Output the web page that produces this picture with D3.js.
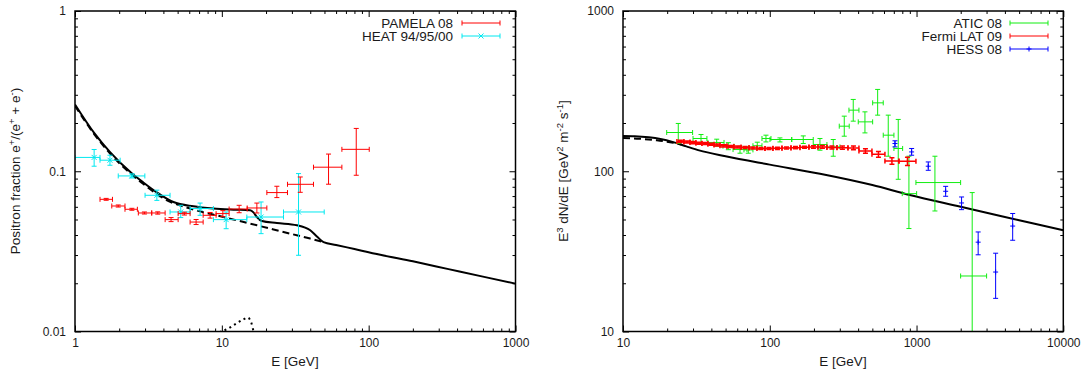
<!DOCTYPE html>
<html><head><meta charset="utf-8">
<script src="https://cdn.jsdelivr.net/npm/d3@7"></script>
<style>
body{margin:0;background:#fff}
svg text{font-family:"Liberation Sans",Arial,Helvetica,sans-serif;fill:#1a1a1a}
</style>
</head><body>
<svg id="c" width="1085" height="377"></svg>
<script>
// ---------------- DATA ----------------
// Left panel: positron fraction
const leftXTicks = [1, 10, 100, 1000];
const leftXLabels = ["1", "10", "100", "1000"];
const leftYTicks = [0.01, 0.1, 1];
const leftYLabels = ["0.01", "0.1", "1"];

// rows: [E, Elo, Ehi, v, vlo, vhi]
const pamela = [
  [1.63,1.48,1.80,0.0668,0.0659,0.0677],
  [1.97,1.78,2.19,0.0607,0.0598,0.0616],
  [2.44,2.19,2.66,0.0579,0.0571,0.0587],
  [2.97,2.70,3.33,0.0549,0.0541,0.0557],
  [3.66,3.33,4.11,0.0549,0.0540,0.0558],
  [4.51,4.11,5.04,0.0499,0.0485,0.0514],
  [5.56,5.04,6.08,0.0544,0.0533,0.0555],
  [6.68,6.08,7.46,0.0482,0.0465,0.0500],
  [8.32,7.46,9.14,0.0531,0.0510,0.0553],
  [10.16,9.14,11.21,0.0544,0.0521,0.0568],
  [13.12,11.21,14.88,0.0581,0.0551,0.0613],
  [17.32,14.88,20.26,0.0590,0.0549,0.0633],
  [23.7,20.26,28.0,0.0736,0.0685,0.0806],
  [34.2,28.0,42.1,0.0829,0.0739,0.0921],
  [53.3,42.1,65.7,0.106,0.083,0.128],
  [82.3,65.7,100.9,0.137,0.0944,0.185]
];
const heat = [
  [1.35,1.0,1.48,0.122,0.1075,0.1367],
  [1.73,1.48,2.03,0.1172,0.109,0.1259],
  [2.44,1.97,2.99,0.0935,0.0908,0.0963],
  [3.61,3.0,4.44,0.0708,0.0658,0.0762],
  [5.25,4.44,6.08,0.0557,0.0514,0.0613],
  [7.11,6.08,8.76,0.0585,0.0531,0.0633],
  [10.7,8.76,14.8,0.0499,0.0438,0.0557],
  [18.5,14.8,26.3,0.0518,0.0408,0.0643],
  [33.3,26.3,49.8,0.0557,0.0299,0.0967]
];
// model curves [E, value]
const fracSolid = [[1,0.261],[1.354,0.1728],[1.733,0.1315],[2.435,0.0972],[2.908,0.0854],[3.605,0.0739],
  [4.679,0.0643],[6.404,0.0604],[8.764,0.0585],[12.0,0.0576],[15.59,0.0571],[16.42,0.0554],[17.32,0.0518],
  [18.74,0.0489],[23.71,0.0475],[32.45,0.0460],[40.0,0.0428],[44.4,0.0392],[49.3,0.0361],[60,0.0347],
  [80,0.0327],[120,0.0301],[200,0.0274],[350,0.0245],[600,0.0220],[1000,0.0199]];
const fracDashed = [[1,0.256],[1.354,0.170],[1.733,0.129],[2.435,0.0955],[2.908,0.0835],[3.605,0.0722],
  [4.0,0.0678],[6.08,0.0585],[10.25,0.0518],[17.32,0.0460],[29.2,0.0408],[40,0.0380],[49.3,0.0361]];
const fracDotted = [[9.0,0.0094],[9.7,0.0099],[11,0.0104],[12.5,0.0112],[14,0.0119],[15,0.0122],[15.8,0.0115],[16.5,0.0099],[17,0.0090]];

// Right panel: E^3 dN/dE
const rightXTicks = [10, 100, 1000, 10000];
const rightXLabels = ["10", "100", "1000", "10000"];
const rightYTicks = [10, 100, 1000];
const rightYLabels = ["10", "100", "1000"];

const atic = [
  [23.8,19.85,29.8,174.5,149.0,198.7],
  [34.0,30.0,37.3,160.1,149.0,169.6],
  [43.5,37.9,48.8,151.2,143.3,158.5],
  [52.2,48.0,57.0,143.3,136.3,150.8],
  [62.7,56.2,69.9,136.6,129.6,143.3],
  [71.4,66.7,76.8,135.9,129.6,142.2],
  [82.2,76.8,88.5,144.3,137.2,151.8],
  [94.2,88.5,101.9,160.1,152.4,167.9],
  [117.3,100.3,141.1,157.8,152.4,161.5],
  [169.1,141.1,197.8,157.8,149.0,166.2],
  [219.8,197.8,245.2,146.9,135.3,160.1],
  [270.7,244.1,300.8,141.9,124.1,157.8],
  [321.8,297.5,347.9,191.1,165.5,220.7],
  [370.5,346.3,405.2,240.6,205.4,280.6],
  [445.2,400.8,502.3,203.3,173.5,234.8],
  [543.3,502.3,593.2,267.2,223.9,324.0],
  [641.6,593.2,701.5,167.9,124.1,223.9],
  [750.5,701.5,804.1,138.7,89.1,210.5],
  [887.6,799.1,1001.6,72.5,43.9,124.1],
  [1334.6,990.6,1997,85.0,56.5,124.1],
  [2395,1997,3002,22.2,5,73.6]
];
const fermi = [
  [24.6,23.3,26.0,153.6,151.3,155.9],
  [27.3,26.0,28.6,152.2,149.9,154.5],
  [30.0,28.6,31.4,150.9,148.6,153.2],
  [32.9,31.4,34.5,149.6,147.4,151.8],
  [36.2,34.5,37.9,149.0,146.8,151.2],
  [39.8,37.9,41.7,147.5,145.3,149.7],
  [43.7,41.7,45.8,145.8,143.6,148.0],
  [48.4,45.8,51.1,144.1,141.9,146.3],
  [54.0,51.1,57.0,142.7,140.6,144.8],
  [60.3,57.0,63.7,141.7,139.6,143.8],
  [67.8,63.7,72.2,140.6,138.5,142.7],
  [76.8,72.2,81.8,139.6,137.5,141.7],
  [87.1,81.8,92.8,138.7,136.6,140.8],
  [98.8,92.8,105.1,138.7,136.6,140.8],
  [112.8,105.1,121.1,139.0,136.9,141.1],
  [130.0,121.1,139.5,139.6,137.5,141.7],
  [149.7,139.5,160.6,140.4,138.3,142.5],
  [172.3,160.6,184.9,141.3,139.2,143.4],
  [198.5,184.9,213.0,141.9,139.4,144.4],
  [228.5,213.0,245.2,141.9,139.2,144.6],
  [265.3,245.2,287.0,140.8,137.8,143.8],
  [312.8,287.0,341.0,140.4,137.0,143.8],
  [371.7,341.0,405.2,139.9,136.0,143.8],
  [448.7,405.2,496.9,133.9,129.5,138.3],
  [550.2,496.9,609.1,127.7,122.5,132.9],
  [679.8,609.1,758.8,115.9,110.5,121.3],
  [867.1,758.8,990.8,115.3,108.5,122.1]
];
// rows: [E, v, vlo, vhi]
const hess = [
  [713,149,141.9,154.9],
  [926,132,125.9,138.7],
  [1202,107.5,101.4,114.3],
  [1579,75,69.8,80.5],
  [2027,63.4,57.6,69.1],
  [2630,36.1,30.1,41.8],
  [3459,23.5,16.1,30.8],
  [4520,45.5,37.1,54.5]
];
const fluxSolid = [[10,166],[12,165.5],[15,163],[18,159],[22,152],[27,143],[33,135],[50,124],[100,110],
  [220,96.5],[500,82],[900,71],[2000,60],[5000,49.5],[10000,42.8]];
const fluxDashed = [[10,161],[13,159.5],[17,156],[22,150.5],[25,147]];

// ---------------- DRAWING ----------------
const svg = d3.select("#c");
svg.append("rect").attr("width",1085).attr("height",377).attr("fill","#fff");

const COL = {red:"#ff0000", cyan:"#00e8f0", green:"#11ee11", blue:"#0000ff"};
const TICKFS = 12, LABFS = 13.5;

function minorTicks(domain){
  const out=[];
  for(let d=domain[0]; d<domain[1]; d*=10){ for(let k=2;k<=9;k++) out.push(k*d); }
  return out;
}

function makePanel(p){
  const x = d3.scaleLog().domain(p.xd).range([p.x0,p.x1]);
  const y = d3.scaleLog().domain(p.yd).range([p.y1,p.y0]);
  const g = svg.append("g");
  const clipId = "clip"+p.id;
  svg.append("clipPath").attr("id",clipId).append("rect")
    .attr("x",p.x0).attr("y",p.y0).attr("width",p.x1-p.x0).attr("height",p.y1-p.y0);

  const style = sel => { sel.select(".domain").remove();
    sel.selectAll(".tick line").attr("stroke","#000").attr("stroke-width",1);
    sel.selectAll("text").attr("font-size",TICKFS).attr("font-family",null).attr("fill","#1a1a1a"); };

  const mx = minorTicks(p.xd), my = minorTicks(p.yd);
  g.append("g").attr("transform",`translate(0,${p.y1})`)
    .call(d3.axisBottom(x).tickValues(p.xt).tickFormat((d,i)=>p.xl[i]).tickSize(-6).tickPadding(7)).call(style);
  g.append("g").attr("transform",`translate(0,${p.y1})`)
    .call(d3.axisBottom(x).tickValues(mx).tickFormat("").tickSize(-3)).call(style);
  g.append("g").attr("transform",`translate(0,${p.y0})`)
    .call(d3.axisTop(x).tickValues(p.xt).tickFormat("").tickSize(-6)).call(style);
  g.append("g").attr("transform",`translate(0,${p.y0})`)
    .call(d3.axisTop(x).tickValues(mx).tickFormat("").tickSize(-3)).call(style);
  g.append("g").attr("transform",`translate(${p.x0},0)`)
    .call(d3.axisLeft(y).tickValues(p.yt).tickFormat((d,i)=>p.yl[i]).tickSize(-6).tickPadding(9)).call(style);
  g.append("g").attr("transform",`translate(${p.x0},0)`)
    .call(d3.axisLeft(y).tickValues(my).tickFormat("").tickSize(-3)).call(style);
  g.append("g").attr("transform",`translate(${p.x1},0)`)
    .call(d3.axisRight(y).tickValues(p.yt).tickFormat("").tickSize(-6)).call(style);
  g.append("g").attr("transform",`translate(${p.x1},0)`)
    .call(d3.axisRight(y).tickValues(my).tickFormat("").tickSize(-3)).call(style);

  const plot = g.append("g").attr("clip-path",`url(#${clipId})`);
  g.append("rect").attr("x",p.x0).attr("y",p.y0).attr("width",p.x1-p.x0).attr("height",p.y1-p.y0)
    .attr("fill","none").attr("stroke","#000").attr("stroke-width",1.5);
  return {x,y,g,plot};
}

function curve(plot,x,y,data,dash,w){
  plot.append("path").datum(data)
    .attr("d", d3.line().x(d=>x(d[0])).y(d=>y(d[1])).curve(d3.curveMonotoneX))
    .attr("fill","none").attr("stroke","#000").attr("stroke-width",w||2)
    .attr("stroke-dasharray",dash||null);
}

function seg(g,x1,y1,x2,y2,color,w){
  g.append("line").attr("x1",x1).attr("y1",y1).attr("x2",x2).attr("y2",y2)
    .attr("stroke",color).attr("stroke-width",w||1);
}

function marker(g,cx,cy,type,color){
  if(type==="x"){ const s=2.5; seg(g,cx-s,cy-s,cx+s,cy+s,color); seg(g,cx-s,cy+s,cx+s,cy-s,color); }
  else if(type==="+"){ const s=2.5; seg(g,cx-s,cy,cx+s,cy,color); seg(g,cx,cy-s,cx,cy+s,color); }
}

function xyErr(plot,x,y,rows,color,mk,w){
  const cap=2.5;
  rows.forEach(r=>{
    const [E,Elo,Ehi,v,vlo,vhi]=r;
    const cx=x(E), cy=y(v), xl=x(Elo), xh=x(Ehi), yl=y(vlo), yh=y(vhi);
    seg(plot,xl,cy,xh,cy,color,w);
    seg(plot,xl,cy-cap,xl,cy+cap,color,w);
    seg(plot,xh,cy-cap,xh,cy+cap,color,w);
    seg(plot,cx,yl,cx,yh,color,w);
    seg(plot,cx-cap,yl,cx+cap,yl,color,w);
    seg(plot,cx-cap,yh,cx+cap,yh,color,w);
    marker(plot,cx,cy,mk,color);
  });
}

function yErr(plot,x,y,rows,color,mk){
  const cap=2.5;
  rows.forEach(r=>{
    const [E,v,vlo,vhi]=r;
    const cx=x(E), cy=y(v), yl=y(vlo), yh=y(vhi);
    seg(plot,cx,yl,cx,yh,color);
    seg(plot,cx-cap,yl,cx+cap,yl,color);
    seg(plot,cx-cap,yh,cx+cap,yh,color);
    marker(plot,cx,cy,mk,color);
  });
}

function legendRow(g,xText,x1,x2,yy,label,color,mk,w){
  g.append("text").attr("x",xText).attr("y",yy).attr("dy","0.36em").attr("text-anchor","end")
    .attr("font-size",LABFS).text(label);
  seg(g,x1,yy,x2,yy,color,w);
  seg(g,x1,yy-2.5,x1,yy+2.5,color,w);
  seg(g,x2,yy-2.5,x2,yy+2.5,color,w);
  marker(g,(x1+x2)/2,yy,mk,color);
}

// ---- Left panel ----
const L = makePanel({id:"L", x0:75, x1:515.5, y0:11, y1:331.5, xd:[1,1000], yd:[0.01,1],
  xt:leftXTicks, xl:leftXLabels, yt:leftYTicks, yl:leftYLabels});
curve(L.plot,L.x,L.y,fracDotted,"2,3.5",2);
curve(L.plot,L.x,L.y,fracDashed,"7,4",2);
curve(L.plot,L.x,L.y,fracSolid,null,2);
xyErr(L.plot,L.x,L.y,heat,COL.cyan,"x",1);
xyErr(L.plot,L.x,L.y,pamela,COL.red,null,1);
legendRow(L.g,453,462,500,23,"PAMELA 08",COL.red,null,1);
legendRow(L.g,453,462,500,36,"HEAT 94/95/00",COL.cyan,"x",1);

L.g.append("text").attr("x",295).attr("y",366).attr("text-anchor","middle").attr("font-size",LABFS).text("E [GeV]");
(function(){
  const t = L.g.append("text").attr("transform","translate(20,171) rotate(-90)")
    .attr("text-anchor","middle").attr("font-size",LABFS);
  t.append("tspan").text("Positron fraction e");
  t.append("tspan").attr("dy",-5).attr("font-size",9.5).text("+");
  t.append("tspan").attr("dy",5).text("/(e");
  t.append("tspan").attr("dy",-5).attr("font-size",9.5).text("+");
  t.append("tspan").attr("dy",5).text(" + e");
  t.append("tspan").attr("dy",-5).attr("font-size",9.5).text("-");
  t.append("tspan").attr("dy",5).text(")");
})();

// ---- Right panel ----
const R = makePanel({id:"R", x0:623, x1:1063.3, y0:11, y1:331.5, xd:[10,10000], yd:[10,1000],
  xt:rightXTicks, xl:rightXLabels, yt:rightYTicks, yl:rightYLabels});
curve(R.plot,R.x,R.y,fluxDashed,"7,4",2);
curve(R.plot,R.x,R.y,fluxSolid,null,2);
xyErr(R.plot,R.x,R.y,atic,COL.green,null,1);
xyErr(R.plot,R.x,R.y,fermi,COL.red,null,1.5);
yErr(R.plot,R.x,R.y,hess,COL.blue,"+");
legendRow(R.g,1002,1010,1048,23,"ATIC 08",COL.green,null,1);
legendRow(R.g,1002,1010,1048,36,"Fermi LAT 09",COL.red,null,1);
legendRow(R.g,1002,1010,1048,49,"HESS 08",COL.blue,"+",1);

R.g.append("text").attr("x",843).attr("y",366).attr("text-anchor","middle").attr("font-size",LABFS).text("E [GeV]");
(function(){
  const t = R.g.append("text").attr("transform","translate(568,171) rotate(-90)")
    .attr("text-anchor","middle").attr("font-size",LABFS);
  t.append("tspan").text("E");
  t.append("tspan").attr("dy",-5).attr("font-size",9.5).text("3");
  t.append("tspan").attr("dy",5).text(" dN/dE [GeV");
  t.append("tspan").attr("dy",-5).attr("font-size",9.5).text("2");
  t.append("tspan").attr("dy",5).text(" m");
  t.append("tspan").attr("dy",-5).attr("font-size",9.5).text("-2");
  t.append("tspan").attr("dy",5).text(" s");
  t.append("tspan").attr("dy",-5).attr("font-size",9.5).text("-1");
  t.append("tspan").attr("dy",5).text("]");
})();
</script>
</body></html>
